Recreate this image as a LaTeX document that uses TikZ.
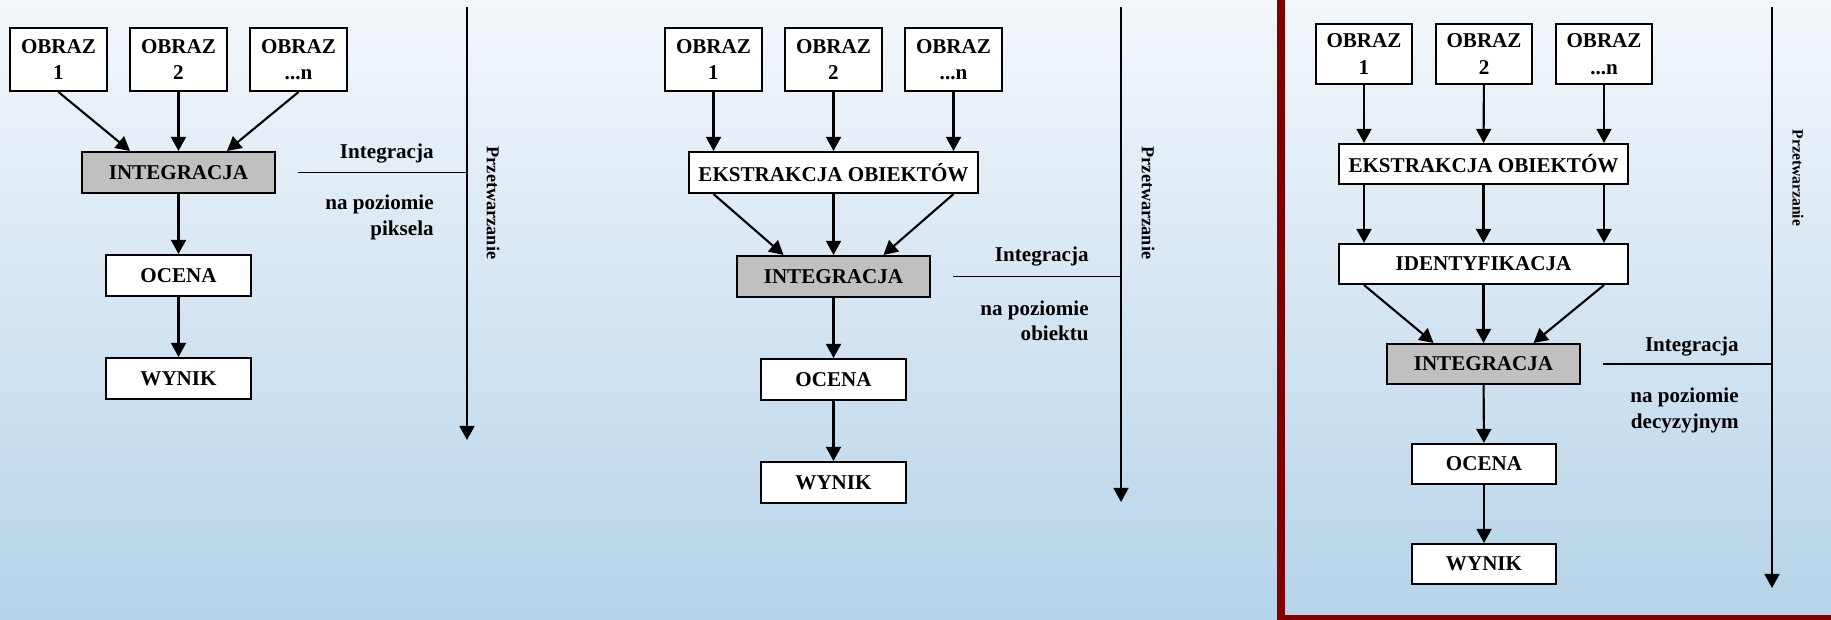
\documentclass[tikz,border=0pt]{standalone}
\usepackage{fontspec}
\setmainfont{Liberation Serif}
\usetikzlibrary{arrows.meta,calc}
\definecolor{bgtop}{RGB}{243,247,251}
\definecolor{bgbot}{RGB}{182,211,233}
\definecolor{framered}{RGB}{128,0,0}
\definecolor{intgray}{RGB}{192,192,192}
\begin{document}
\begin{tikzpicture}[x=0.02cm, y=-0.02cm,
  font=\fontsize{12}{14.5}\selectfont\bfseries,
  box/.style={draw, rectangle, align=center, fill=white, line width=1.2pt, inner sep=0pt, minimum height=0.82cm},
  obraz/.style={box, minimum width=1.94cm, minimum height=1.26cm, font=\fontsize{12}{15}\selectfont\bfseries},
  wide/.style={box, minimum width=5.78cm},
  integ/.style={box, fill=intgray, minimum width=3.86cm},
  small/.style={box, minimum width=2.9cm},
  arr/.style={-{Triangle[width=8.5pt,length=8pt]}, line width=1.2pt},
  level/.style={line width=1.1pt},
  side/.style={anchor=east, align=right, inner sep=0pt},
  proc/.style={rotate=-90, inner sep=0pt, font=\fontsize{10.4}{12}\selectfont\bfseries}]
\useasboundingbox (0,0) rectangle (1831,619);
\fill[top color=bgtop, bottom color=bgbot] (0,0) rectangle (1831,619);
\begin{scope}
\clip (0,0) rectangle (1831,619);
\draw[framered, line width=4.5pt] (1281,-20) rectangle (1860,619);
\end{scope}

\node[obraz] (a1) at (58.5,59.5) {OBRAZ\\1};
\node[obraz] (a2) at (178.5,59.5) {OBRAZ\\2};
\node[obraz] (a3) at (298.5,59.5) {OBRAZ\\...n};
\node[integ] (ai) at (178.5,172.5) {INTEGRACJA};
\node[small] (ao) at (178.5,275.5) {OCENA};
\node[small] (aw) at (178.5,378.5) {WYNIK};
\draw[arr] (a1.south) -- ($(ai.north)+(-48.5,0)$);
\draw[arr] (a2) -- (ai);
\draw[arr] (a3.south) -- ($(ai.north)+(48.5,0)$);
\draw[arr] (ai) -- (ao);
\draw[arr] (ao) -- (aw);
\coordinate (atop) at (467,7);
\coordinate (abot) at (467,440);
\coordinate (al) at (298,172.5);
\draw[arr] (atop) -- (abot);
\draw[level] (al) -- (al -| atop);
\node[side] (ait) at (434,154) {Integracja};
\node[side] (ain) at (434,217.5) {na poziomie\\piksela};
\node[proc] (ap) at (493,203) {Przetwarzanie};

\node[obraz] (b1) at (713.5,59.5) {OBRAZ\\1};
\node[obraz] (b2) at (833.5,59.5) {OBRAZ\\2};
\node[obraz] (b3) at (953.5,59.5) {OBRAZ\\...n};
\node[wide] (be) at (833.5,172.5) {EKSTRAKCJA OBIEKTÓW};
\node[integ] (bi) at (833.5,276.5) {INTEGRACJA};
\node[small] (bo) at (833.5,379.5) {OCENA};
\node[small] (bw) at (833.5,482.5) {WYNIK};
\draw[arr] (b1) -- (b1 |- be.north);
\draw[arr] (b2) -- (be);
\draw[arr] (b3) -- (b3 |- be.north);
\draw[arr] (b1 |- be.south) -- ($(bi.north)+(-50,0)$);
\draw[arr] (be) -- (bi);
\draw[arr] (b3 |- be.south) -- ($(bi.north)+(50,0)$);
\draw[arr] (bi) -- (bo);
\draw[arr] (bo) -- (bw);
\coordinate (btop) at (1121,7);
\coordinate (bbot) at (1121,502);
\coordinate (bl) at (953,276.5);
\draw[arr] (btop) -- (bbot);
\draw[level] (bl) -- (bl -| btop);
\node[side] (bit) at (1089,257) {Integracja};
\node[side] (bin) at (1089,321) {na poziomie\\obiektu};
\node[proc] (bp) at (1148,203) {Przetwarzanie};

\node[obraz, minimum width=1.92cm, minimum height=1.2cm] (c1) at (1364,54) {OBRAZ\\1};
\node[obraz, minimum width=1.92cm, minimum height=1.2cm] (c2) at (1484,54) {OBRAZ\\2};
\node[obraz, minimum width=1.92cm, minimum height=1.2cm] (c3) at (1604,54) {OBRAZ\\...n};
\node[wide, minimum height=0.8cm] (ce) at (1483.5,164) {EKSTRAKCJA OBIEKTÓW};
\node[wide, minimum height=0.8cm] (cd) at (1483.5,264) {IDENTYFIKACJA};
\node[integ, minimum height=0.8cm] (ci) at (1483.5,364) {INTEGRACJA};
\node[small, minimum width=2.88cm, minimum height=0.8cm] (co) at (1484,464) {OCENA};
\node[small, minimum width=2.88cm, minimum height=0.8cm] (cw) at (1484,564) {WYNIK};
\draw[arr] (c1) -- (c1 |- ce.north);
\draw[arr] (c2) -- (ce);
\draw[arr] (c3) -- (c3 |- ce.north);
\draw[arr] (c1 |- ce.south) -- (c1 |- cd.north);
\draw[arr] (ce) -- (cd);
\draw[arr] (c3 |- ce.south) -- (c3 |- cd.north);
\draw[arr] (c1 |- cd.south) -- ($(ci.north)+(-50,0)$);
\draw[arr] (cd) -- (ci);
\draw[arr] (c3 |- cd.south) -- ($(ci.north)+(50,0)$);
\draw[arr] (ci) -- (co);
\draw[arr] (co) -- (cw);
\coordinate (ctop) at (1772,7);
\coordinate (cbot) at (1772,588);
\coordinate (cl) at (1603,364);
\draw[arr] (ctop) -- (cbot);
\draw[level] (cl) -- (cl -| ctop);
\node[side] (cit) at (1739,347) {Integracja};
\node[side] (cin) at (1739,410.5) {na poziomie\\decyzyjnym};
\node[proc, font=\fontsize{8.9}{10}\selectfont\bfseries] (cp) at (1798,178) {Przetwarzanie};
\end{tikzpicture}
\end{document}
